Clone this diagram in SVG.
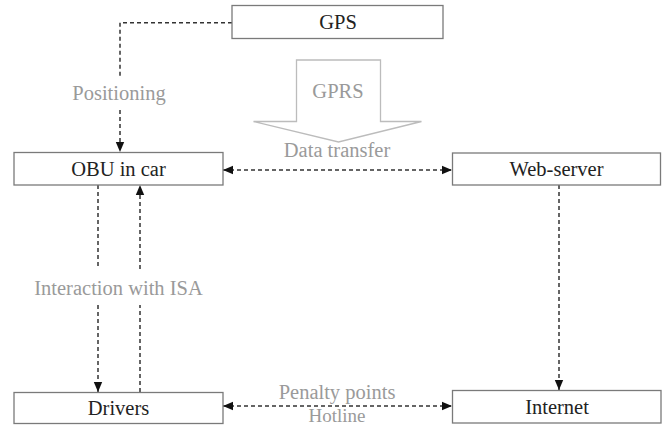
<svg xmlns="http://www.w3.org/2000/svg" width="666" height="425" viewBox="0 0 666 425">
<style>
.box{fill:#fff;stroke:#7a7a7a;stroke-width:1.3}
.nt{font-family:'Liberation Serif','Times New Roman','DejaVu Serif',serif;font-size:20.5px;fill:#222;text-anchor:middle}
.et{font-family:'Liberation Serif','Times New Roman','DejaVu Serif',serif;font-size:20.5px;fill:#9a9a9a;text-anchor:middle}
.c{fill:none;stroke:#333;stroke-width:1.5;stroke-dasharray:4 3}
</style>
<defs>
<marker id="ah" markerUnits="userSpaceOnUse" markerWidth="10" markerHeight="10" viewBox="0 0 10 10" refX="10" refY="5" orient="auto-start-reverse">
<path d="M0,0.8 L10,5 L0,9.2 Z" fill="#111"/>
</marker>
</defs>
<rect width="666" height="425" fill="#fff"/>
<g id="gprs-arrow">
<path d="M296.5,60 H380.5 V121.5 H421.5 L338.5,142 L253.5,121.5 H296.5 Z" fill="#fff" stroke="#bcbcbc" stroke-width="1.3"/>
<text class="et" x="338" y="98">GPRS</text>
</g>
<g id="connectors">
<polyline class="c" points="232,22.7 120,22.7 120,78"/>
<line class="c" x1="120" y1="110" x2="120" y2="152" marker-end="url(#ah)"/>
<line class="c" x1="223" y1="170" x2="452" y2="170" marker-start="url(#ah)" marker-end="url(#ah)"/>
<line class="c" x1="98" y1="185" x2="98" y2="269"/>
<line class="c" x1="98" y1="305" x2="98" y2="392" marker-end="url(#ah)"/>
<line class="c" x1="140" y1="392" x2="140" y2="305"/>
<line class="c" x1="140" y1="269" x2="140" y2="185" marker-end="url(#ah)"/>
<line class="c" x1="559" y1="185" x2="559" y2="390" marker-end="url(#ah)"/>
<line class="c" x1="223" y1="406" x2="452" y2="406" marker-start="url(#ah)" marker-end="url(#ah)"/>
<text class="et" x="337" y="100" dx="-218">Positioning</text>
<text class="et" x="337" y="157">Data transfer</text>
<text class="et" x="118.5" y="295">Interaction with ISA</text>
<text class="et" x="337" y="399">Penalty points</text>
<text class="et" x="337" y="421.5" style="font-size:19px">Hotline</text>
</g>
<g id="gps">
<rect class="box" x="232" y="5.5" width="211" height="33"/>
<text class="nt" x="338" y="28.5">GPS</text>
</g>
<g id="obu">
<rect class="box" x="14" y="152.5" width="209" height="32.5"/>
<text class="nt" x="118.5" y="176">OBU in car</text>
</g>
<g id="web-server">
<rect class="box" x="452.5" y="153" width="208" height="32"/>
<text class="nt" x="556.5" y="176">Web-server</text>
</g>
<g id="drivers">
<rect class="box" x="14" y="392.5" width="209" height="31"/>
<text class="nt" x="118.5" y="415">Drivers</text>
</g>
<g id="internet">
<rect class="box" x="452.5" y="390.5" width="208.5" height="32.5"/>
<text class="nt" x="557" y="413.5">Internet</text>
</g>
</svg>
